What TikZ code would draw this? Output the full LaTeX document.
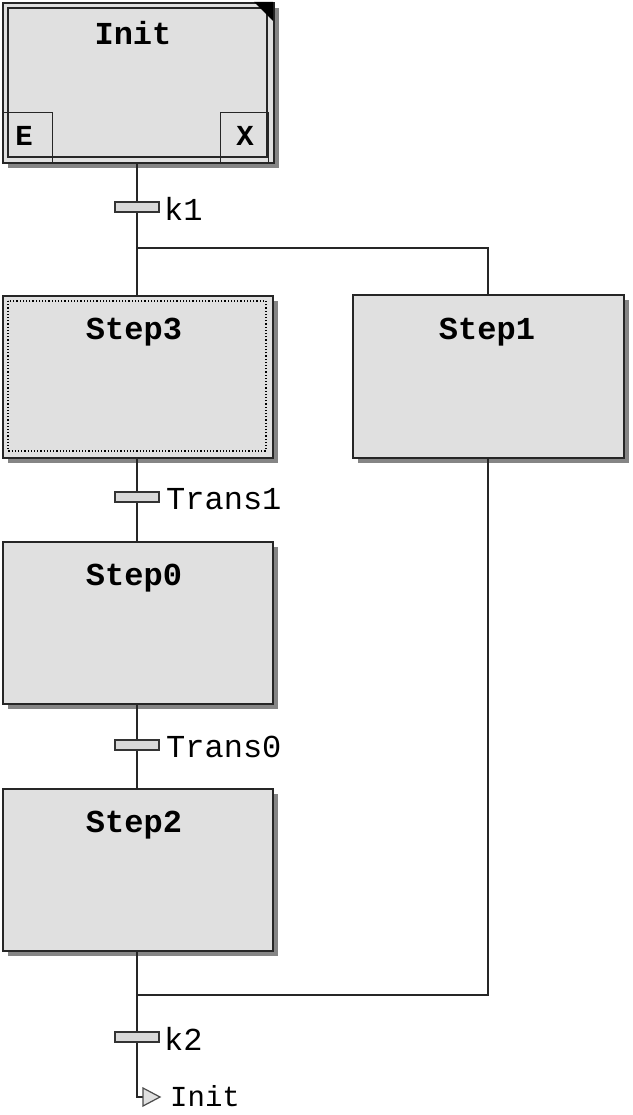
\documentclass[tikz,border=0pt]{standalone}
\usepackage{fontspec}
\setmonofont{Liberation Mono}
\usetikzlibrary{shadows}
\begin{document}
\begin{tikzpicture}[x=1pt,y=-1pt,
  stepbox/.style={draw=black!85, line width=1.7pt, fill=black!12, inner sep=0pt,
    anchor=north west,
    drop shadow={shadow xshift=5pt, shadow yshift=-5pt, fill=black!60, opacity=.8}},
  title/.style={font=\ttfamily\bfseries\fontsize{32}{32}\selectfont, inner sep=0pt, anchor=base},
  lbl/.style={font=\ttfamily\fontsize{32}{32}\selectfont, inner sep=0pt, anchor=west},
  trans/.style={draw=black!80, line width=1.3pt, fill=black!15, minimum width=44pt, minimum height=10pt, inner sep=0pt},
  wire/.style={draw=black!85, line width=1.7pt},
  small/.style={draw=black!85, line width=1.3pt, inner sep=0pt, anchor=north west}]
\useasboundingbox (0,0) rectangle (632,1115);
% transition bars
\node[trans] (tk1) at (137,207) {};
\node[trans] (tt1) at (137,497) {};
\node[trans] (tt0) at (137,745) {};
\node[trans] (tk2) at (137,1037) {};
% routing points
\coordinate (split) at (137,248);
\coordinate (split1) at (488,248);
\coordinate (join) at (137,995);
\coordinate (join1) at (488,995);
\coordinate (bend) at (137,1097);
% steps
\node[stepbox, minimum width=271pt, minimum height=160pt] (init) at (2,2) {};
\node[stepbox, minimum width=270pt, minimum height=162pt] (s3) at (2,295) {};
\node[stepbox, minimum width=271pt, minimum height=163pt] (s1) at (352,294) {};
\node[stepbox, minimum width=270pt, minimum height=162pt] (s0) at (2,541) {};
\node[stepbox, minimum width=270pt, minimum height=162pt] (s2) at (2,788) {};
% wires
\draw[wire] (init.south -| tk1) -- (tk1.north);
\draw[wire] (tk1.south) -- (split) -- (s3.north -| split);
\draw[wire] (split) -- (split1) -- (s1.north -| split1);
\draw[wire] (s3.south -| tt1) -- (tt1.north);
\draw[wire] (tt1.south) -- (s0.north -| tt1);
\draw[wire] (s0.south -| tt0) -- (tt0.north);
\draw[wire] (tt0.south) -- (s2.north -| tt0);
\draw[wire] (s1.south -| split1) -- (join1) -- (join);
\draw[wire] (s2.south -| join) -- (join) -- (tk2.north);
\draw[wire] (tk2.south) -- (bend) -- ++(6,0) coordinate (tip);
% bars again on top of wires
\node[trans] at (tk1) {};
\node[trans] at (tt1) {};
\node[trans] at (tt0) {};
\node[trans] at (tk2) {};
% Init decorations
\draw[black!85, line width=1.3pt] (8,8) rectangle (267,157);
\fill[black] (254,2) -- (273,2) -- (273,21) -- cycle;
\node[small, minimum width=50pt, minimum height=50pt] (ebox) at (2,112) {};
\node[small, minimum width=48pt, minimum height=50pt] (xbox) at (220,112) {};
\node[title, font=\ttfamily\bfseries\fontsize{29}{29}\selectfont] at (24,146) {E};
\node[title, font=\ttfamily\bfseries\fontsize{29}{29}\selectfont] at (245,146) {X};
% Step3 dotted inner frame
\draw[black, line width=1.2pt, dotted] (8,301) rectangle (266,451);
% titles
\node[title] at (133,45) {Init};
\node[title] at (134,339) {Step3};
\node[title] at (487,339) {Step1};
\node[title] at (134,585) {Step0};
\node[title] at (134,832) {Step2};
% transition labels
\node[lbl] at (164,209) {k1};
\node[lbl] at (166,499) {Trans1};
\node[lbl] at (166,747) {Trans0};
\node[lbl] at (164,1039) {k2};
% jump arrow
\draw[black!70, line width=1.2pt, fill=black!12] (tip) ++(0,-9) -- ++(17,9) -- ++(-17,9) -- cycle;
\node[lbl, font=\ttfamily\fontsize{29}{29}\selectfont] (jump) at (170,1096) {Init};
\end{tikzpicture}
\end{document}
